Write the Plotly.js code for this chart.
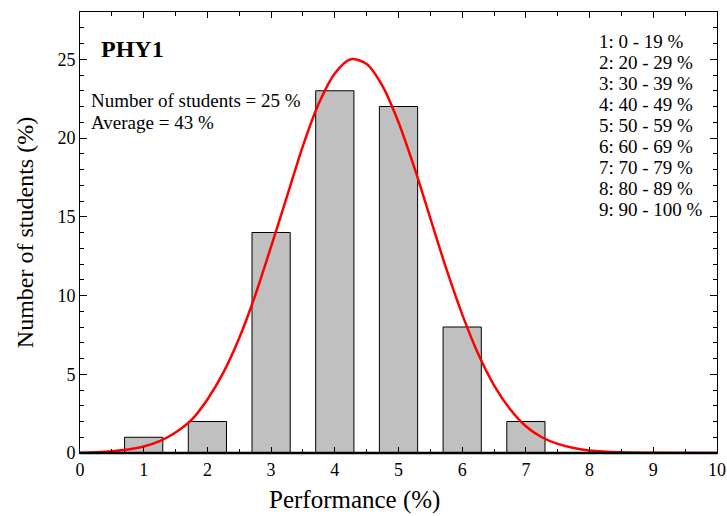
<!DOCTYPE html>
<html>
<head>
<meta charset="utf-8">
<script src="https://cdn.plot.ly/plotly-3.0.1.min.js"></script>
<style>html,body{margin:0;padding:0;background:#fff;}#chart{width:727px;height:516px;}</style>
</head>
<body>
<div id="chart"></div>
<script>
// Histogram data (performance band index -> % of students)
const bandIndex = [1, 2, 3, 4, 5, 6, 7, 8, 9];
const studentsPct = [1, 2, 14, 23, 22, 8, 2, 0, 0];

// Fitted curve, points
const curveX = [0, 0.25, 0.5, 0.75, 1.0, 1.25, 1.5, 1.75, 2.0, 2.25, 2.5, 2.75, 3.0, 3.25, 3.5, 3.75, 4.0, 4.25, 4.5, 4.75, 5.0, 5.25, 5.5, 5.75, 6.0, 6.25, 6.5, 6.75, 7.0, 7.25, 7.5, 7.75, 8.0, 8.5, 9.0, 10.0];
const curveY = [0.02, 0.05, 0.11, 0.22, 0.41, 0.75, 1.3, 2.1, 3.4, 5.1, 7.3, 10.0, 13.1, 16.3, 19.5, 22.2, 24.1, 25.0, 24.7, 23.3, 21.0, 18.1, 14.9, 11.7, 8.8, 6.3, 4.3, 2.8, 1.7, 1.0, 0.58, 0.32, 0.16, 0.04, 0.01, 0.0];

const legendLines = ["1: 0 - 19 %", "2: 20 - 29 %", "3: 30 - 39 %", "4: 40 - 49 %", "5: 50 - 59 %", "6: 60 - 69 %", "7: 70 - 79 %", "8: 80 - 89 %", "9: 90 - 100 %"];
const titleText = "PHY1";
const infoLines = ["Number of students = 25 %", "Average = 43 %"];
const xTitle = "Performance (%)";
const yTitle = "Number of students (%)";

const serif = "'Liberation Serif', 'Times New Roman', serif";

const traces = [
  {
    type: 'bar', x: bandIndex, y: studentsPct, width: 0.6,
    marker: {color: '#c0c0c0', line: {color: '#000', width: 1}},
    hoverinfo: 'skip'
  },
  {
    type: 'scatter', mode: 'lines', x: curveX, y: curveY,
    line: {color: '#ff0000', width: 2.5, shape: 'spline', smoothing: 0.8},
    hoverinfo: 'skip'
  }
];

// plot area in pixels: x 80..717, y 12..453
const pxToPaperX = px => (px - 80) / 637;
const pxToPaperY = py => (453 - py) / 441;

const annotations = [
  {xref: 'paper', yref: 'paper', x: pxToPaperX(99), y: pxToPaperY(49), xanchor: 'left', yanchor: 'middle',
   text: '<b>' + titleText + '</b>', showarrow: false, font: {family: serif, size: 24, color: '#000'}},
  {xref: 'paper', yref: 'paper', x: pxToPaperX(354), y: pxToPaperY(500), xanchor: 'center', yanchor: 'middle',
   text: xTitle, showarrow: false, font: {family: serif, size: 25, color: '#000'}}
];
infoLines.forEach((t, i) => annotations.push({
  xref: 'paper', yref: 'paper', x: pxToPaperX(89), y: pxToPaperY(101 + i * 21.5), xanchor: 'left', yanchor: 'middle',
  text: t, showarrow: false, font: {family: serif, size: 19, color: '#000'}
}));
legendLines.forEach((t, i) => annotations.push({
  xref: 'paper', yref: 'paper', x: pxToPaperX(597), y: pxToPaperY(41 + i * 21.1), xanchor: 'left', yanchor: 'middle',
  text: t, showarrow: false, font: {family: serif, size: 19, color: '#000'}
}));

const layout = {
  width: 727, height: 516,
  margin: {l: 80, r: 10, t: 12, b: 63},
  paper_bgcolor: '#fff', plot_bgcolor: '#fff',
  showlegend: false,
  bargap: 0,
  font: {family: serif, color: '#000'},
  xaxis: {
    range: [0, 10], dtick: 1, tick0: 0,
    showgrid: false, zeroline: false,
    showline: true, linecolor: '#000', linewidth: 1, mirror: 'ticks',
    ticks: 'inside', ticklen: 6, tickcolor: '#000', tickwidth: 1,
    minor: {dtick: 0.5, ticks: 'inside', ticklen: 4, tickcolor: '#000', showgrid: false},
    tickfont: {family: serif, size: 18, color: '#000'},
    fixedrange: true
  },
  yaxis: {
    range: [0, 28], dtick: 5, tick0: 0,
    showgrid: false, zeroline: false,
    showline: true, linecolor: '#000', linewidth: 1, mirror: 'ticks',
    ticks: 'inside', ticklen: 7, tickcolor: '#000', tickwidth: 1,
    minor: {dtick: 1, ticks: 'inside', ticklen: 4, tickcolor: '#000', showgrid: false},
    tickfont: {family: serif, size: 18, color: '#000'},
    title: {text: yTitle, font: {family: serif, size: 24, color: '#000'}, standoff: 17},
    fixedrange: true
  },
  shapes: [
    {type: 'line', xref: 'paper', yref: 'paper', x0: 0, x1: 1, y0: 0, y1: 0, line: {color: '#000', width: 2.5}, layer: 'above'}
  ],
  annotations: annotations
};

Plotly.newPlot('chart', traces, layout, {displayModeBar: false, staticPlot: true});
</script>
</body>
</html>
